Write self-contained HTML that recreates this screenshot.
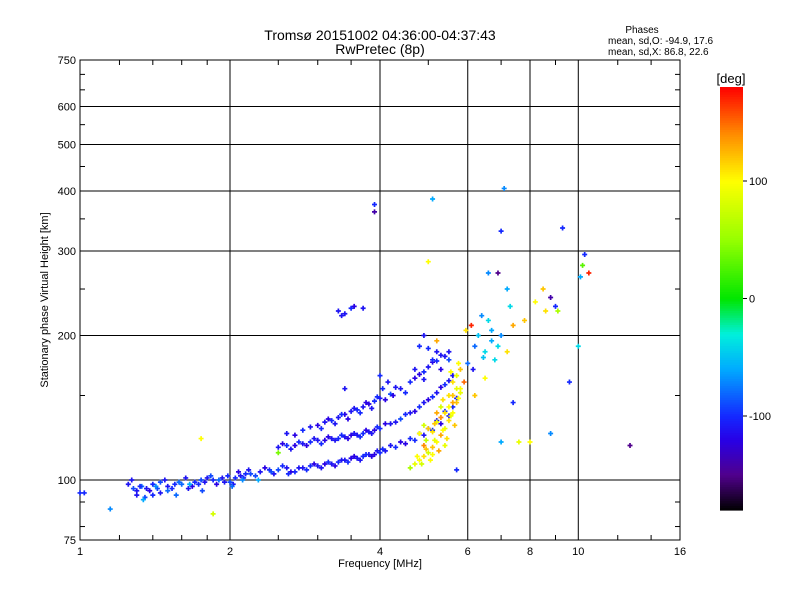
<!DOCTYPE html>
<html><head><meta charset="utf-8"><style>
body{margin:0;background:#fff;}
svg{display:block;font-family:"Liberation Sans",sans-serif;}
</style></head><body>
<svg id="c" width="800" height="600" viewBox="0 0 800 600"></svg>
<script>
// ---- data ----
const lowF=[1.0,1.02,1.25,1.28,1.3,1.33,1.36,1.4,1.45,1.5,1.55,1.6,1.65,1.7,1.75,1.8,1.85,1.9,1.95,2.0,2.05,2.1,2.15,2.2,2.3,2.4,2.5,2.6,2.7,2.8,2.9,3.0,3.1,3.2,3.3,3.4,3.5,3.6,3.7,3.8,3.9,4.0,1.3,1.35,1.4,1.45,1.5,4.1,4.3,4.5,4.7,4.9,5.1,5.3,5.5,5.6,5.7];
const lowH=[94,94,98,96,95,97,96,98,99,97,98,98,96,99,100,101,100,100,99,99,101,102,103,103,104,105,105,106,104,106,107,107,108,108,109,110,111,111,112,113,113,114,93,92,93,94,95,115,117,119,121,124,127,131,136,142,148];
const lowP=[-100,-100,-110,-90,-110,-80,-110,-100,-90,-110,-100,-80,-110,-100,-90,-110,-100,-80,-110,-90,-100,-110,-100,-90,-110,-100,-90,-110,-100,-110,-100,-110,-120,-110,-100,-110,-120,-110,-100,-110,-120,-100,-110,-90,-100,-110,-80,-110,-100,-120,-100,-110,-100,-120,-110,-100,-110];
const low2F=[1.27,1.32,1.38,1.43,1.48,1.53,1.58,1.63,1.68,1.73,1.78,1.83,1.88,1.93,1.98,2.03,2.08,2.13,2.18,2.25,2.35,2.45,2.55,2.65,2.75,2.85,2.95,3.05,3.15,3.25,3.35,3.45,3.55,3.65,3.75,3.85,3.95,4.05,4.2,4.4,4.6,4.8,5.0,5.2,5.4,1.34,1.42,1.56,1.66,1.76,2.02,2.12,2.28,2.42,2.62];
const low2H=[100,97,95,96,100,96,99,101,97,98,99,102,98,101,102,98,104,101,105,102,106,103,107,104,106,105,108,106,109,107,110,109,112,110,113,112,115,116,118,120,122,125,128,133,139,91,97,93,98,95,97,100,100,104,103];
const low2P=[-110,-100,-120,-90,-110,-100,-80,-110,-120,-100,-110,-90,-120,-110,-100,-110,-120,-100,-110,-90,-120,-110,-100,-120,-110,-100,-120,-110,-100,-120,-110,-100,-120,-110,-100,-120,-110,-100,-110,-120,-100,-110,-90,-110,-100,-60,-70,-80,-60,-90,-80,-70,-60,-90,-100];
const midF=[2.5,2.6,2.7,2.8,2.9,3.0,3.1,3.2,3.3,3.4,3.5,3.6,3.7,3.8,3.9,4.0,4.2,4.4,4.6,4.8,5.0,5.2,5.4,5.6];
const midH=[117,118,118,119,120,121,121,122,122,123,124,124,125,126,127,128,131,134,138,142,147,152,158,165];
const midP=[-110,-100,-120,-110,-100,-110,-120,-110,-100,-110,-120,-110,-100,-110,-120,-100,-110,-90,-110,-100,-120,-110,-100,-110];
const mid2F=[2.55,2.65,2.75,2.85,2.95,3.05,3.15,3.25,3.35,3.45,3.55,3.65,3.75,3.85,3.95,4.1,4.3,4.5,4.7,4.9,5.1,5.3,5.5];
const mid2H=[119,116,120,118,122,119,123,121,124,122,125,123,127,125,129,131,132,137,139,145,149,156,161];
const mid2P=[-120,-110,-100,-120,-110,-100,-120,-110,-100,-120,-110,-100,-120,-110,-100,-120,-110,-100,-120,-110,-100,-120,-110];
const upF=[2.6,2.8,3.0,3.1,3.2,3.3,3.4,3.5,3.6,3.7,3.8,3.9,4.0,4.2,4.4,4.6,4.8,5.0,5.2,5.4,4.7,4.9,5.1,5.3,5.5,5.0,5.2];
const upH=[125,127,130,132,133,135,137,139,140,142,144,146,148,151,155,160,166,172,177,181,170,168,176,182,178,188,185];
const upP=[-110,-100,-120,-110,-100,-110,-120,-110,-100,-110,-120,-100,-110,-90,-110,-100,-120,-110,-100,-110,-110,-100,-120,-110,-90,-100,-110];
const up2F=[2.7,2.9,3.05,3.15,3.25,3.35,3.45,3.55,3.65,3.75,3.85,3.95,4.1,4.3,4.5,4.7,4.9,5.1,5.3,5.5,4.05,4.15,4.25,4.0];
const up2H=[124,129,128,134,131,137,134,141,138,145,141,149,147,156,152,163,162,178,170,185,155,160,150,165];
const up2P=[-120,-110,-100,-120,-110,-100,-120,-110,-100,-120,-110,-100,-120,-110,-100,-120,-110,-100,-120,-110,-100,-110,-120,-100];
const yelF=[4.7,4.8,4.9,5.0,5.1,5.2,5.3,5.4,5.5,5.6,5.7,5.8,4.8,5.0,5.2,5.4,5.6,5.8,5.6,5.7,5.8,4.6,4.9,5.1,5.3,5.5];
const yelH=[108,110,112,114,117,120,124,128,133,138,145,152,125,128,132,138,145,155,160,165,170,106,118,113,142,150];
const yelP=[90,100,110,80,120,100,130,90,110,100,120,90,100,120,90,110,130,100,110,90,120,60,140,100,80,110];
const yel2F=[4.75,4.85,4.95,5.05,5.15,5.25,5.35,5.45,5.55,5.65,5.75,4.9,5.1,5.3,5.5,5.7,4.95,5.15,5.35,5.55,5.2,5.4,5.6,5.75];
const yel2H=[112,108,116,110,121,115,127,122,136,130,148,130,126,135,142,155,121,131,147,168,138,118,150,175];
const yel2P=[100,80,120,100,90,130,100,110,90,120,100,80,110,140,100,90,70,120,110,100,130,90,120,100];
const sF=[3.3,3.4,3.5,3.7,3.9,3.9,5.0,5.1,7.1,7.0,6.6,6.9,7.2,8.5,8.2,8.8,9.1,9.3,10.3,10.2,10.5,10.1,6.1,6.4,6.6,7.0,7.4,7.8,6.2,6.5,6.8,7.2,7.4,7.6,7.0,8.0,8.8,9.6,10.0,12.7,1.75,1.85,1.15,5.7,3.4,2.5,6.5,6.2,5.9,6.0,6.3,6.7,7.3,8.6,9.0,3.35,3.55,4.9,5.2,4.8,6.7,6.9,6.45,5.95,6.15];
const sH=[225,222,228,228,375,362,285,385,405,330,270,270,250,250,235,240,225,335,295,280,270,265,210,220,215,200,210,215,190,185,178,185,145,120,120,120,125,160,190,118,122,85,87,105,155,114,163,150,160,175,200,195,230,225,230,220,230,200,195,190,205,190,180,205,170];
const sP=[-110,-110,-100,-110,-100,-140,100,-60,-70,-100,-70,-150,-60,120,100,-140,60,-100,-100,30,170,-60,170,-70,-40,-70,130,120,-80,-40,-40,110,-100,90,-60,100,-70,-100,-40,-150,100,80,-70,-100,-110,40,100,120,150,-80,-50,-60,-40,110,-100,-110,-120,-110,130,-100,-60,-40,-50,110,-110];
const yTicks=[75,100,200,300,400,500,600,750];
const xTicks=[1,2,4,6,8,10,16];
const cbTicks=[100,0,-100];

// ---- axes ----
const X0=80,X1=680,Y0=540,Y1=60;
const xs=f=>X0+(X1-X0)*Math.log2(f)/4;
const ys=h=>Y0-(Y0-Y1)*Math.log10(h/75);
const NS="http://www.w3.org/2000/svg";
const svg=document.getElementById('c');
function mk(t,a,p){const e=document.createElementNS(NS,t);for(const k in a)e.setAttribute(k,a[k]);(p||svg).appendChild(e);return e;}
function cmap(v){
 const st=[[-180,0,0,0],[-150,80,0,140],[-120,40,0,230],[-100,20,40,255],[-60,0,170,255],[-30,0,240,220],[0,0,230,0],[50,150,255,0],[100,255,255,0],[140,255,140,0],[180,255,0,0]];
 v=Math.max(-180,Math.min(180,v));
 for(let i=1;i<st.length;i++){if(v<=st[i][0]){const a=st[i-1],b=st[i],t=(v-a[0])/(b[0]-a[0]);
 return `rgb(${Math.round(a[1]+t*(b[1]-a[1]))},${Math.round(a[2]+t*(b[2]-a[2]))},${Math.round(a[3]+t*(b[3]-a[3]))})`;}}
 return 'red';
}
const grid=mk('g',{});


[100,200,300,400,500,600].forEach(h=>mk('line',{x1:X0,x2:X1,y1:ys(h),y2:ys(h),stroke:'#000','stroke-width':1},grid));
[2,4,6,8,10].forEach(f=>mk('line',{x1:xs(f),x2:xs(f),y1:Y0,y2:Y1,stroke:'#000','stroke-width':1},grid));
[80,90,150,250,350,450,550,650,700].forEach(h=>{mk('line',{x1:X0,x2:X0+5,y1:ys(h),y2:ys(h),stroke:'#000'});mk('line',{x1:X1,x2:X1-5,y1:ys(h),y2:ys(h),stroke:'#000'});});
[1.2,1.4,1.6,1.8,2.5,3,3.5,5,7,9,12,14].forEach(f=>{mk('line',{x1:xs(f),x2:xs(f),y1:Y0,y2:Y0-5,stroke:'#000'});mk('line',{x1:xs(f),x2:xs(f),y1:Y1,y2:Y1+5,stroke:'#000'});});
const frame=mk('rect',{x:X0,y:Y1,width:X1-X0,height:Y0-Y1,fill:'none',stroke:'#000'});


yTicks.forEach(h=>{const t=mk('text',{x:X0-4,y:ys(h)+4,'text-anchor':'end','font-size':11});t.textContent=h;
 
 });
xTicks.forEach(f=>{const t=mk('text',{x:xs(f),y:Y0+15,'text-anchor':'middle','font-size':11});t.textContent=f;
 
 });
const pts=mk('g',{});


function plot(F,H,P){for(let i=0;i<F.length;i++){const x=xs(F[i]),y=ys(H[i]),c=cmap(P[i]);
 const p=mk('path',{d:`M${x-2.5},${y}h5M${x},${y-2.5}v5`,stroke:c,'stroke-width':1.7},pts);
 
 }}
plot(lowF,lowH,lowP);plot(low2F,low2H,low2P);plot(midF,midH,midP);plot(mid2F,mid2H,mid2P);
plot(upF,upH,upP);plot(up2F,up2H,up2P);plot(yelF,yelH,yelP);plot(yel2F,yel2H,yel2P);plot(sF,sH,sP);
const CB0=-180,CB1=180,CY0=510,CY1=87;
const cy=v=>CY0-(CY0-CY1)*(v-CB0)/(CB1-CB0);
const cb=mk('g',{});


for(let v=-180;v<180;v+=2)mk('rect',{x:720,y:cy(v+2),width:23,height:cy(v)-cy(v+2)+0.6,fill:cmap(v+1)},cb);
cbTicks.forEach(v=>{mk('line',{x1:743,x2:747,y1:cy(v),y2:cy(v),stroke:'#000'},cb);const t=mk('text',{x:749,y:cy(v)+4,'font-size':11},cb);t.textContent=v;
 
 });
</script>
<svg style="position:absolute;left:0;top:0" width="800" height="600">
<text x="380" y="40" text-anchor="middle" font-size="14" font-family="Liberation Sans,sans-serif">Tromsø 20151002 04:36:00-04:37:43</text>
<text x="380" y="54" text-anchor="middle" font-size="14" font-family="Liberation Sans,sans-serif">RwPretec (8p)</text>
<text x="642" y="33" text-anchor="middle" font-size="10" font-family="Liberation Sans,sans-serif">Phases</text>
<text x="608" y="44" font-size="10" font-family="Liberation Sans,sans-serif">mean, sd,O: -94.9, 17.6</text>
<text x="608" y="55" font-size="10" font-family="Liberation Sans,sans-serif">mean, sd,X:  86.8, 22.6</text>
<text x="731" y="83" text-anchor="middle" font-size="13" font-family="Liberation Sans,sans-serif">[deg]</text>
<text x="380" y="567" text-anchor="middle" font-size="11" font-family="Liberation Sans,sans-serif">Frequency [MHz]</text>
<text transform="translate(48,300) rotate(-90)" text-anchor="middle" font-size="11" font-family="Liberation Sans,sans-serif">Stationary phase Virtual Height [km]</text>
</svg>
</body></html>
